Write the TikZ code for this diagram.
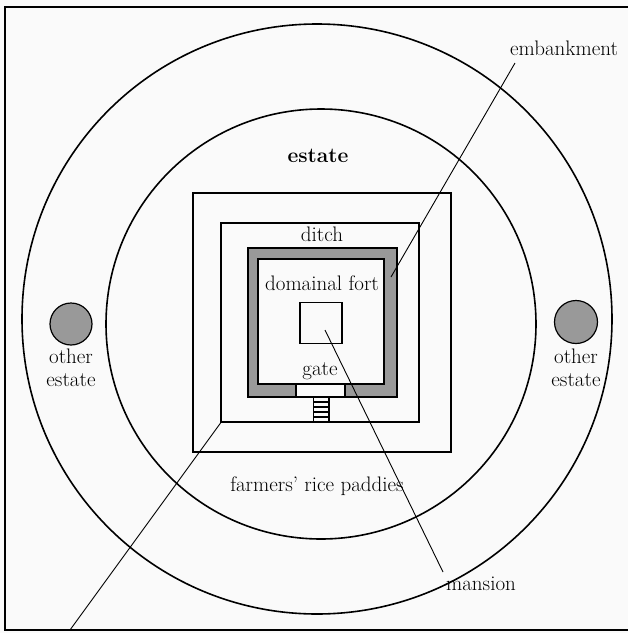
\documentclass[tikz,border=0pt]{standalone}
\usepackage{fontspec}
\begin{document}
\begin{tikzpicture}[x=1pt,y=-1pt,
  lbl/.style={font=\fontsize{21}{25}\selectfont, inner sep=0pt, anchor=base},
  ring/.style={line width=1.6pt},
  sq/.style={line width=1.3pt},
  leader/.style={line width=0.9pt},
  embfill/.style={fill=black!40},
  paper/.style={fill=black!2},
]
\useasboundingbox (0,0) rectangle (628,633);
\fill[paper] (0,0) rectangle (628,633);
% frame
\draw[line width=1.8pt] (630,7) -- (5,7) -- (5,630) -- (630,630);
% estate circles
\draw[ring] (317,319) circle[radius=295pt];
\draw[ring] (321,324) circle[radius=215pt];
% other estates
\node[draw, embfill, circle, line width=1.2pt, minimum size=42pt, inner sep=0pt] (oeLc) at (71,324) {};
\node[draw, embfill, circle, line width=1.2pt, minimum size=43pt, inner sep=0pt] (oeRc) at (576,322) {};
% rice paddies and ditch squares
\draw[sq] (193,193) rectangle (451,452);
\draw[sq] (221,223) rectangle (419,422);
% embankment
\fill[black!40] (248,248) rectangle (397,397);
\fill[paper] (258,259) rectangle (384,384);
\fill[paper] (296,384) rectangle (345,397);
\draw[sq] (248,248) rectangle (397,397);
\draw[sq] (258,259) rectangle (384,384);
\draw[sq] (296,384) rectangle (345,397);
% ladder
\draw[line width=1.1pt] (313.5,397) -- (313.5,422) (329,397) -- (329,422)
  (313.5,402) -- (329,402) (313.5,407) -- (329,407) (313.5,412) -- (329,412) (313.5,417) -- (329,417);
% mansion
\node[draw, sq, paper, minimum width=42pt, minimum height=41pt, inner sep=0pt] (mansion) at (321,323) {};
% labels
\node[lbl, font=\fontsize{21}{25}\selectfont\bfseries] (estate) at (318,162) {estate};
\node[lbl] (ditch) at (322,241.5) {ditch};
\node[lbl] (fort) at (322,290) {domainal fort};
\node[lbl] (gate) at (320,375) {gate};
\node[lbl] (paddies) at (317,491) {farmers’ rice paddies};
\node[lbl] (oeL1) at (71,363) {other};
\node[lbl] (oeL2) at (71,386) {estate};
\node[lbl] (oeR1) at (576,363) {other};
\node[lbl] (oeR2) at (576,386) {estate};
\node[lbl] (embank) at (564,55) {embankment};
\node[lbl] (mansionlbl) at (481,590) {mansion};
% leader lines
\coordinate (embA) at (515,63);
\coordinate (embB) at (391,277);
\coordinate (manA) at (325,330);
\coordinate (manB) at (443,572);
\coordinate (ditA) at (222,421);
\coordinate (ditB) at (70,630);
\draw[leader] (embA) -- (embB);
\draw[leader] (manA) -- (manB);
\draw[leader] (ditA) -- (ditB);
\end{tikzpicture}
\end{document}
